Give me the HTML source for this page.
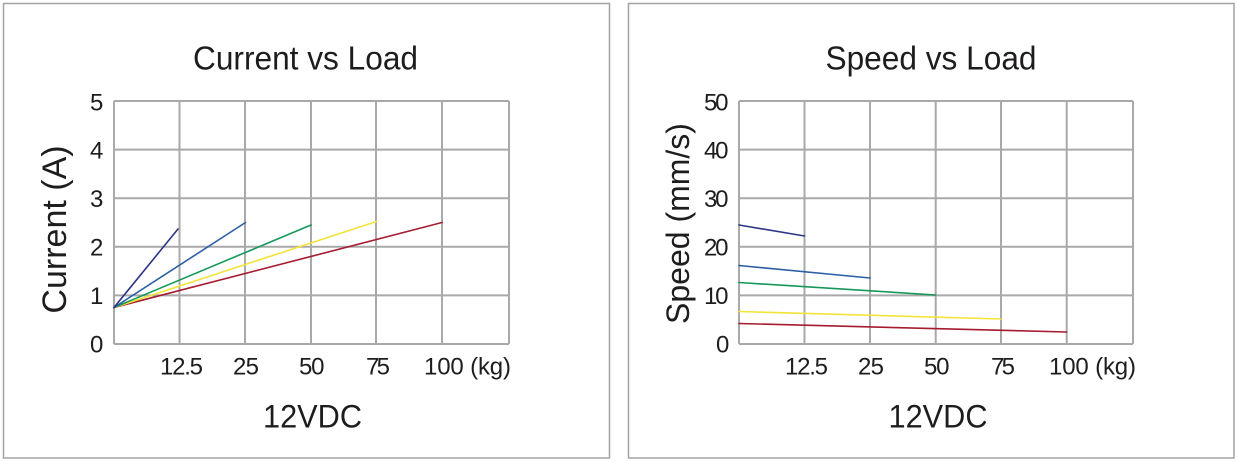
<!DOCTYPE html>
<html>
<head>
<meta charset="utf-8">
<style>
  html,body{margin:0;padding:0;background:#fff;}
  svg{display:block;}
  text{font-family:"Liberation Sans",Arial,sans-serif;fill:#1f1c1d;}
</style>
</head>
<body>
<svg width="1238" height="462" viewBox="0 0 1238 462" xmlns="http://www.w3.org/2000/svg">
  <rect x="0" y="0" width="1238" height="462" fill="#fff"/>
  <!-- Panel borders -->
  <rect x="3.5" y="3.5" width="606" height="454.5" fill="none" stroke="#a3a3a3" stroke-width="1.5"/>
  <rect x="628.5" y="3.5" width="605.5" height="454.5" fill="none" stroke="#a3a3a3" stroke-width="1.5"/>

  <!-- ===== LEFT CHART ===== -->
  <text x="193" y="69.5" font-size="33" textLength="225" lengthAdjust="spacingAndGlyphs">Current vs Load</text>
  <g stroke="#a9a9a9" stroke-width="2" fill="none">
    <line x1="114" y1="101" x2="509" y2="101"/>
    <line x1="114" y1="149.6" x2="509" y2="149.6"/>
    <line x1="114" y1="198.2" x2="509" y2="198.2"/>
    <line x1="114" y1="246.8" x2="509" y2="246.8"/>
    <line x1="114" y1="295.4" x2="509" y2="295.4"/>
    <line x1="114" y1="344" x2="509" y2="344"/>
    <line x1="114" y1="101" x2="114" y2="344"/>
    <line x1="179.5" y1="101" x2="179.5" y2="344"/>
    <line x1="245" y1="101" x2="245" y2="344"/>
    <line x1="311" y1="101" x2="311" y2="344"/>
    <line x1="376" y1="101" x2="376" y2="344"/>
    <line x1="442" y1="101" x2="442" y2="344"/>
    <line x1="509" y1="101" x2="509" y2="344"/>
  </g>
  <g font-size="24" lengthAdjust="spacingAndGlyphs">
    <text x="90" y="110.5" textLength="12">5</text>
    <text x="90" y="158.5" textLength="12">4</text>
    <text x="90" y="207" textLength="12">3</text>
    <text x="90" y="255.5" textLength="12">2</text>
    <text x="90" y="304" textLength="12">1</text>
    <text x="90" y="352.5" textLength="12">0</text>
  </g>
  <g font-size="24" lengthAdjust="spacingAndGlyphs">
    <text x="160" y="374.5" textLength="43">12.5</text>
    <text x="233" y="374.5" textLength="26">25</text>
    <text x="299" y="374.5" textLength="25.5">50</text>
    <text x="366" y="374.5" textLength="24">75</text>
    <text x="424" y="374.5" textLength="87">100 (kg)</text>
  </g>
  <text x="263" y="427.5" font-size="32" textLength="99" lengthAdjust="spacingAndGlyphs">12VDC</text>
  <text transform="translate(66,229.5) rotate(-90)" font-size="34" text-anchor="middle">Current (A)</text>
  <g stroke-width="1.6" fill="none" stroke-linecap="round">
    <line x1="114" y1="307.5" x2="442" y2="222.5" stroke="#a51c30"/>
    <line x1="114" y1="307.5" x2="376.5" y2="221.5" stroke="#f2e43a"/>
    <line x1="114" y1="307.5" x2="311" y2="225" stroke="#16985a"/>
    <line x1="114" y1="307.5" x2="245.5" y2="222.5" stroke="#2c5ea4"/>
    <line x1="114" y1="307.5" x2="178" y2="229" stroke="#2b3585"/>
  </g>

  <!-- ===== RIGHT CHART ===== -->
  <text x="825.5" y="69.5" font-size="33" textLength="211" lengthAdjust="spacingAndGlyphs">Speed vs Load</text>
  <g stroke="#a9a9a9" stroke-width="2" fill="none">
    <line x1="739" y1="101" x2="1133" y2="101"/>
    <line x1="739" y1="149.6" x2="1133" y2="149.6"/>
    <line x1="739" y1="198.2" x2="1133" y2="198.2"/>
    <line x1="739" y1="246.8" x2="1133" y2="246.8"/>
    <line x1="739" y1="295.4" x2="1133" y2="295.4"/>
    <line x1="739" y1="344" x2="1133" y2="344"/>
    <line x1="739" y1="101" x2="739" y2="344"/>
    <line x1="804.5" y1="101" x2="804.5" y2="344"/>
    <line x1="870" y1="101" x2="870" y2="344"/>
    <line x1="935.7" y1="101" x2="935.7" y2="344"/>
    <line x1="1001" y1="101" x2="1001" y2="344"/>
    <line x1="1066.7" y1="101" x2="1066.7" y2="344"/>
    <line x1="1133" y1="101" x2="1133" y2="344"/>
  </g>
  <g font-size="24" lengthAdjust="spacingAndGlyphs">
    <text x="704" y="110.5" textLength="24.5">50</text>
    <text x="704" y="158.5" textLength="24.5">40</text>
    <text x="704" y="207" textLength="24.5">30</text>
    <text x="704" y="255.5" textLength="24.5">20</text>
    <text x="704" y="304" textLength="24.5">10</text>
    <text x="716" y="352.5" textLength="12">0</text>
  </g>
  <g font-size="24" lengthAdjust="spacingAndGlyphs">
    <text x="785" y="374.5" textLength="43">12.5</text>
    <text x="858" y="374.5" textLength="26">25</text>
    <text x="924" y="374.5" textLength="25.5">50</text>
    <text x="991" y="374.5" textLength="24">75</text>
    <text x="1049" y="374.5" textLength="87">100 (kg)</text>
  </g>
  <text x="888.5" y="427.5" font-size="32" textLength="99" lengthAdjust="spacingAndGlyphs">12VDC</text>
  <text transform="translate(689,223.5) rotate(-90)" font-size="32" text-anchor="middle">Speed (mm/s)</text>
  <g stroke-width="1.6" fill="none" stroke-linecap="round">
    <line x1="739" y1="225" x2="804.5" y2="236" stroke="#2b3585"/>
    <line x1="739" y1="265.5" x2="870" y2="278" stroke="#2c5ea4"/>
    <line x1="739" y1="282.5" x2="935.7" y2="295" stroke="#16985a"/>
    <line x1="739" y1="311.5" x2="1001" y2="319" stroke="#f2e43a"/>
    <line x1="739" y1="323.5" x2="1066.7" y2="332" stroke="#a51c30"/>
  </g>
</svg>
</body>
</html>
